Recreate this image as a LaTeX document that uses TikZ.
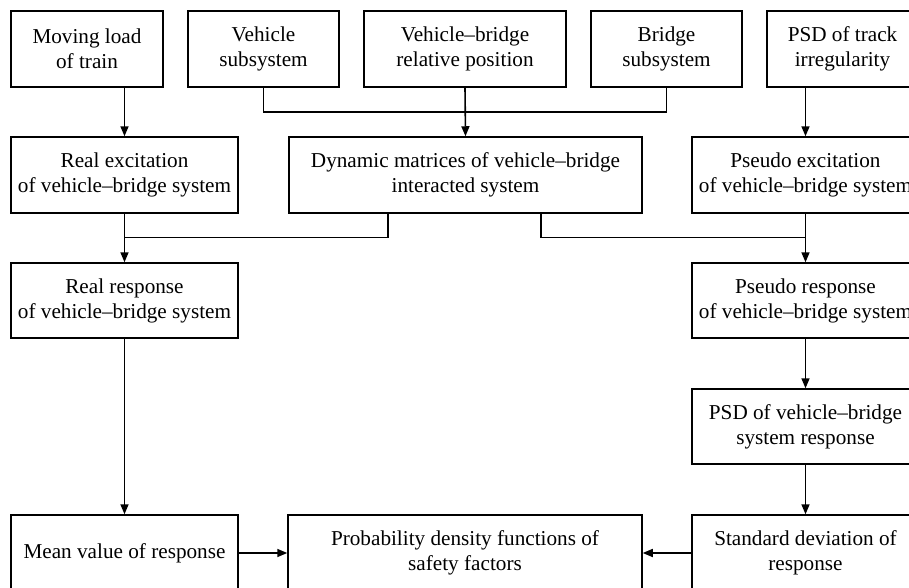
\documentclass[tikz,border=0pt]{standalone}
\usepackage{fontspec}
\setmainfont{Liberation Serif}
\usetikzlibrary{arrows.meta}
\tikzset{
  box/.style={draw, line width=1.5pt, inner sep=0pt, align=center,
    font=\fontsize{21.2}{25}\selectfont},
  con/.style={line width=1.6pt},
  arr/.style={line width=1.6pt, -{Triangle[length=10pt,width=8pt]}}
}
\begin{document}
\begin{tikzpicture}[x=1pt,y=-1pt]
\useasboundingbox (0,0) rectangle (909,587);
\clip (0,0) rectangle (909,587);
% row 1
\node[box, minimum width=152pt, minimum height=76pt] (load) at (87,49) {Moving load\\of train};
\node[box, minimum width=151pt, minimum height=76pt] (veh) at (263.5,49) {Vehicle\\subsystem};
\node[box, minimum width=202pt, minimum height=76pt] (rel) at (465,49) {Vehicle--bridge\\relative position};
\node[box, minimum width=151pt, minimum height=76pt] (bri) at (666.5,49) {Bridge\\subsystem};
\node[box, minimum width=151pt, minimum height=76pt] (psdt) at (842.5,49) {PSD of track\\irregularity};
% row 2
\node[box, minimum width=227pt, minimum height=76pt] (rex) at (124.5,175) {Real excitation\\of vehicle--bridge system};
\node[box, minimum width=353pt, minimum height=76pt] (dyn) at (465.5,175) {Dynamic matrices of vehicle--bridge\\interacted system};
\node[box, minimum width=227pt, minimum height=76pt] (pex) at (805.5,175) {Pseudo excitation\\of vehicle--bridge system};
% row 3
\node[box, minimum width=227pt, minimum height=75pt] (rres) at (124.5,300.5) {Real response\\of vehicle--bridge system};
\node[box, minimum width=227pt, minimum height=75pt] (pres) at (805.5,300.5) {Pseudo response\\of vehicle--bridge system};
% row 4
\node[box, minimum width=227pt, minimum height=75pt] (psdr) at (805.5,426.5) {PSD of vehicle--bridge\\system response};
% row 5
\node[box, minimum width=227pt, minimum height=76pt] (mean) at (124.5,553) {Mean value of response};
\node[box, minimum width=354pt, minimum height=76pt] (prob) at (465,553) {Probability density functions of\\safety factors};
\node[box, minimum width=227pt, minimum height=76pt] (std) at (805.5,553) {Standard deviation of\\response};
% junction coordinates
\coordinate (jt) at (465,112);
\coordinate (jl) at (124.5,237.5);
\coordinate (jr) at (805.5,237.5);
% connectors
\draw[arr] (load.south -| rex.north) -- (rex.north);
\draw[con] (veh.south) -- (veh.south |- jt) -- (bri.south |- jt) -- (bri.south);
\draw[arr] (rel.south) -- (dyn.north);
\draw[arr] (psdt.south -| pex.north) -- (pex.north);
\draw[arr] (rex.south) -- (rres.north);
\draw[con] ([xshift=100pt]dyn.south west) |- (jl);
\draw[arr] (pex.south) -- (pres.north);
\draw[con] ([xshift=-102pt]dyn.south east) |- (jr);
\draw[arr] (pres.south) -- (psdr.north);
\draw[arr] (psdr.south) -- (std.north);
\draw[arr] (rres.south) -- (mean.north);
\draw[arr] (mean.east) -- (prob.west);
\draw[arr] (std.west) -- (prob.east);
\end{tikzpicture}
\end{document}
